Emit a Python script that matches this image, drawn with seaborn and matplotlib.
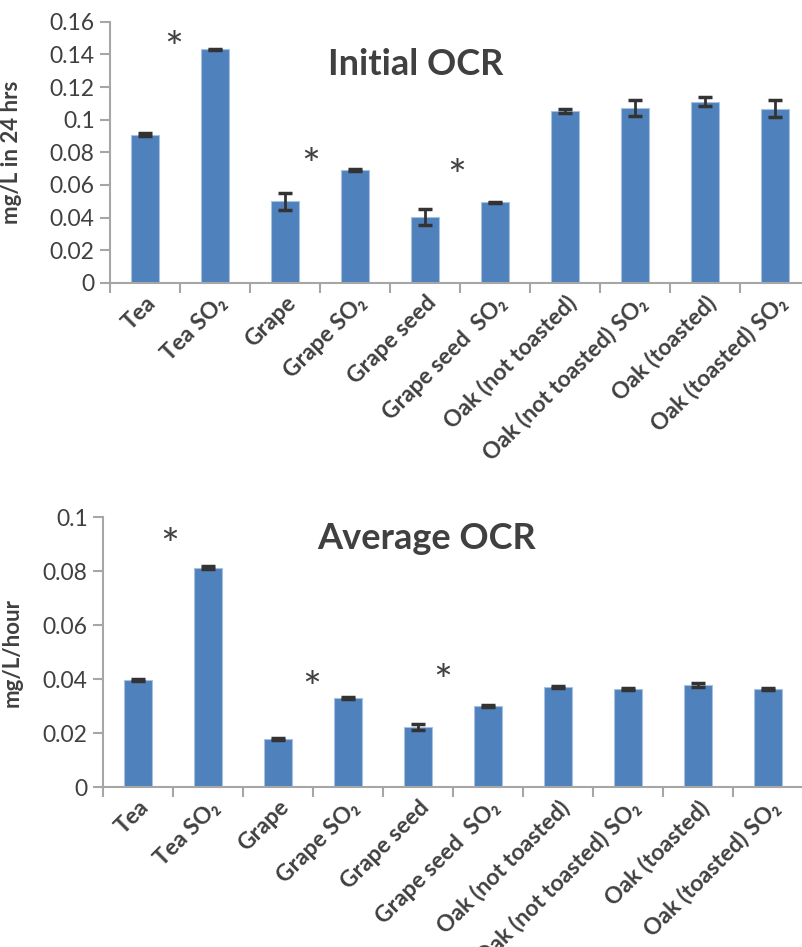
import numpy as np
import pandas as pd
import seaborn as sns
import matplotlib.pyplot as plt
from matplotlib.ticker import FuncFormatter, FixedLocator
from matplotlib.transforms import ScaledTranslation

# categories and values
categories = ['Tea', 'Tea SO\u2082', 'Grape', 'Grape SO\u2082', 'Grape seed',
              'Grape seed  SO\u2082', 'Oak (not toasted)', 'Oak (not toasted) SO\u2082',
              'Oak (toasted)', 'Oak (toasted) SO\u2082']

initial_ocr = [0.0908, 0.1431, 0.0500, 0.0690, 0.0404, 0.0494, 0.1053, 0.1070, 0.1110, 0.1067]
initial_err = [0.0009, 0.0003, 0.0053, 0.0005, 0.0049, 0.0003, 0.0015, 0.0049, 0.0027, 0.0051]

average_ocr = [0.0398, 0.0814, 0.0178, 0.0332, 0.0224, 0.0301, 0.0371, 0.0364, 0.0379, 0.0365]
average_err = [0.0005, 0.0005, 0.0004, 0.0003, 0.0011, 0.0004, 0.0003, 0.0004, 0.0006, 0.0004]

# significance stars (x position in category units, y in data units)
initial_star_x = [0.41, 2.37, 4.45]
initial_star_y = [0.1425, 0.0705, 0.0640]
average_star_x = [0.46, 2.48, 4.36]
average_star_y = [0.0890, 0.0360, 0.0385]

BAR = '#4F81BD'
TXT = '#404040'
AXC = '#A6A6A6'

sns.set_style('white')
plt.rcParams['font.family'] = ['Lato', 'DejaVu Sans']

fig = plt.figure(figsize=(8.02, 9.47), dpi=100)
ax_top = fig.add_axes([110 / 802, 0.7012, 700 / 802, 0.2759])
ax_bot = fig.add_axes([103 / 802, 0.1686, 700 / 802, 0.2851])


def draw_panel(ax, values, errs, ymax, ystep, ylabel, title, title_xy, star_x, star_y, label_x):
    df = pd.DataFrame({'cat': categories, 'val': values})
    sns.barplot(data=df, x='cat', y='val', color=BAR, width=0.4, errorbar=None,
                edgecolor='#A9C1E0', linewidth=0.8, saturation=1, ax=ax)
    ax.errorbar(np.arange(len(values)), values, yerr=errs, fmt='none',
                ecolor='#333333', elinewidth=2, capsize=5, capthick=2.5)
    ax.set_xlim(-0.5, 9.5)
    ax.set_ylim(0, ymax)
    ax.set_yticks(np.arange(0, ymax + ystep / 2, ystep))
    ax.yaxis.set_major_formatter(FuncFormatter(lambda v, p: '%g' % round(v, 4)))
    for s in ['top', 'right']:
        ax.spines[s].set_visible(False)
    for s in ['left', 'bottom']:
        ax.spines[s].set_color(AXC)
        ax.spines[s].set_linewidth(1.5)
    ax.tick_params(axis='y', which='major', direction='out', length=7, width=1.5,
                   color=AXC, labelsize=16.5, labelcolor=TXT, left=True, pad=4)
    # x ticks at category boundaries, labels at centres
    ax.xaxis.set_minor_locator(FixedLocator(np.arange(-0.5, 10, 1)))
    ax.tick_params(axis='x', which='minor', direction='out', length=7, width=1.5,
                   color=AXC, bottom=True)
    ax.tick_params(axis='x', which='major', length=0, pad=12)
    ax.set_xticks(np.arange(len(categories)))
    ax.set_xticklabels(categories, rotation=45, ha='right', va='center',
                       rotation_mode='anchor', fontsize=16.5, fontweight='bold', color=TXT)
    shift = ScaledTranslation(8 / 100, 0, fig.dpi_scale_trans)
    for lab in ax.get_xticklabels():
        lab.set_transform(lab.get_transform() + shift)
    ax.set_xlabel('')
    ax.set_ylabel(ylabel, fontsize=16, fontweight='bold', color=TXT)
    ax.yaxis.set_label_coords(label_x, 0.5)
    ax.text(title_xy[0], title_xy[1], title, transform=ax.transAxes, ha='center',
            va='center', fontsize=26, fontweight='bold', color=TXT)
    for sx, sy in zip(star_x, star_y):
        ax.text(sx, sy, '*', ha='center', va='center', fontsize=32, color=TXT)


draw_panel(ax_top, initial_ocr, initial_err, 0.16, 0.02, 'mg/L in 24 hrs',
           'Initial OCR', (0.436, 0.836), initial_star_x, initial_star_y, -0.125)
draw_panel(ax_bot, average_ocr, average_err, 0.1, 0.02, 'mg/L/hour',
           'Average OCR', (0.462, 0.92), average_star_x, average_star_y, -0.115)

fig.savefig('out.png', dpi=100)
